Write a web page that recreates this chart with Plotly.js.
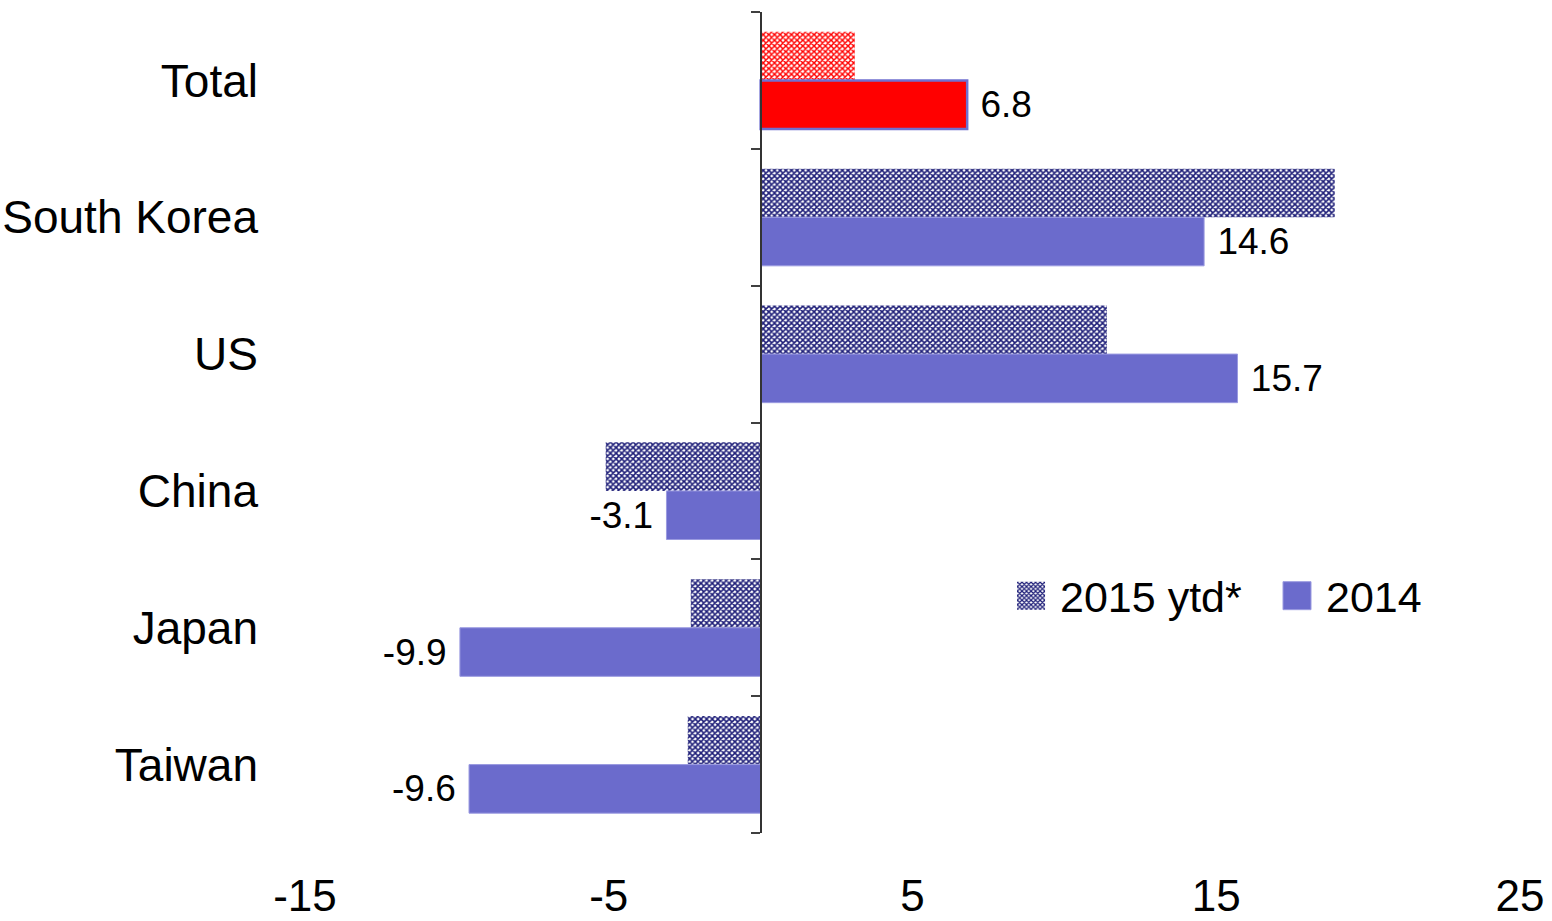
<!DOCTYPE html>
<html>
<head>
<meta charset="utf-8">
<script src="https://cdn.plot.ly/plotly-3.0.1.min.js"></script>
<style>
html,body{margin:0;padding:0;background:#fff;}
#chart{width:1552px;height:921px;}
</style>
</head>
<body>
<div id="chart"></div>
<script>
const categories = ['Total', 'South Korea', 'US', 'China', 'Japan', 'Taiwan'];
const values2015 = [3.1, 18.9, 11.4, -5.1, -2.3, -2.4];
const values2014 = [6.8, 14.6, 15.7, -3.1, -9.9, -9.6];
const xTicks = [-15, -5, 5, 15, 25];
const seriesNames = ['2015 ytd*', '2014'];

const FONT = '"Liberation Sans Narrow", "Arial Narrow", "Liberation Sans", Arial, sans-serif';
const BLUE = '#6B6BCC';
const NAVY = '#1E1E78';
const RED = '#FF0000';

function label(v) {
  const s = v.toFixed(1);
  return v < 0 ? s + '\u00a0' : '\u00a0' + s;
}

const restCats = categories.slice(1);
const rest2015 = values2015.slice(1);
const rest2014 = values2014.slice(1);

const pattern2015 = {shape: 'x', size: 4, solidity: 0.62, fgcolor: NAVY, bgcolor: '#ffffff', fillmode: 'replace'};
const labelFont = {family: FONT, size: 37, color: '#000'};

const traces = [
  {
    type: 'bar', orientation: 'h', name: seriesNames[0], legend: 'legend',
    y: restCats, x: rest2015, offsetgroup: 'a',
    marker: {color: NAVY, pattern: pattern2015, line: {width: 0}},
    hoverinfo: 'skip'
  },
  {
    type: 'bar', orientation: 'h', name: seriesNames[1], legend: 'legend2',
    y: restCats, x: rest2014, offsetgroup: 'b',
    marker: {color: BLUE, line: {width: 1, color: '#9a9ae0'}},
    text: rest2014.map(label), textposition: 'outside', cliponaxis: false,
    constraintext: 'none', textfont: labelFont,
    hoverinfo: 'skip'
  },
  {
    type: 'bar', orientation: 'h', name: seriesNames[0], showlegend: false,
    y: [categories[0]], x: [values2015[0]], offsetgroup: 'a',
    marker: {color: RED, pattern: {shape: 'x', size: 4, solidity: 0.6, fgcolor: RED, bgcolor: '#ffffff', fillmode: 'replace'}, line: {width: 0}},
    hoverinfo: 'skip'
  },
  {
    type: 'bar', orientation: 'h', name: seriesNames[1], showlegend: false,
    y: [categories[0]], x: [values2014[0]], offsetgroup: 'b',
    marker: {color: RED, line: {width: 2.5, color: '#7070D0'}},
    text: [label(values2014[0])], textposition: 'outside', cliponaxis: false,
    constraintext: 'none', textfont: labelFont,
    hoverinfo: 'skip'
  },
  {
    type: 'scatter', mode: 'markers', x: [null], y: [null], yaxis: 'y2',
    showlegend: false, hoverinfo: 'skip'
  }
];

const boundaries = [];
for (let i = 0; i <= categories.length; i++) boundaries.push(i - 0.5);

const legendBase = {
  orientation: 'h', xanchor: 'left', y: 0.289, yanchor: 'middle',
  font: {family: FONT, size: 43, color: '#000'}, itemwidth: 48,
  bgcolor: 'rgba(0,0,0,0)'
};

const layout = {
  width: 1552, height: 921,
  margin: {l: 305, r: 32, t: 12, b: 88},
  paper_bgcolor: '#ffffff', plot_bgcolor: 'rgba(0,0,0,0)',
  barmode: 'group', bargap: 0.29, bargroupgap: 0,
  font: {family: FONT, color: '#000'},
  showlegend: true,
  legend: Object.assign({}, legendBase, {x: 0.5737}),
  legend2: Object.assign({}, legendBase, {x: 0.7926}),
  xaxis: {
    range: [-15, 25], tickvals: xTicks, ticktext: xTicks.map(String),
    showgrid: false, zeroline: false, showline: false, ticks: '',
    tickfont: {family: FONT, size: 44, color: '#000'},
    ticklabelstandoff: 33, fixedrange: true
  },
  yaxis: {
    type: 'category', categoryorder: 'array', categoryarray: categories,
    range: [categories.length - 0.5, -0.5],
    showgrid: false, zeroline: false, showline: false, ticks: '',
    tickfont: {family: FONT, size: 46, color: '#000'},
    ticklabelstandoff: 46, fixedrange: true
  },
  yaxis2: {
    type: 'linear', overlaying: 'y', anchor: 'free', position: 15 / 40, side: 'left',
    range: [categories.length - 0.5, -0.5],
    tickvals: boundaries, ticks: 'outside', ticklen: 9, tickwidth: 2, tickcolor: '#404040',
    showline: true, linecolor: '#333333', linewidth: 2.5,
    showticklabels: false, showgrid: false, zeroline: false, fixedrange: true
  }
};

Plotly.newPlot('chart', traces, layout, {displayModeBar: false, staticPlot: true}).then(function (gd) {
  // enlarge the legend swatches to match the reference's large square keys
  document.querySelectorAll('g[class^="legend"] .legendpoints path').forEach(function (p) {
    p.setAttribute('d', 'M14,14H-14V-14H14Z');
  });
});
</script>
</body>
</html>
